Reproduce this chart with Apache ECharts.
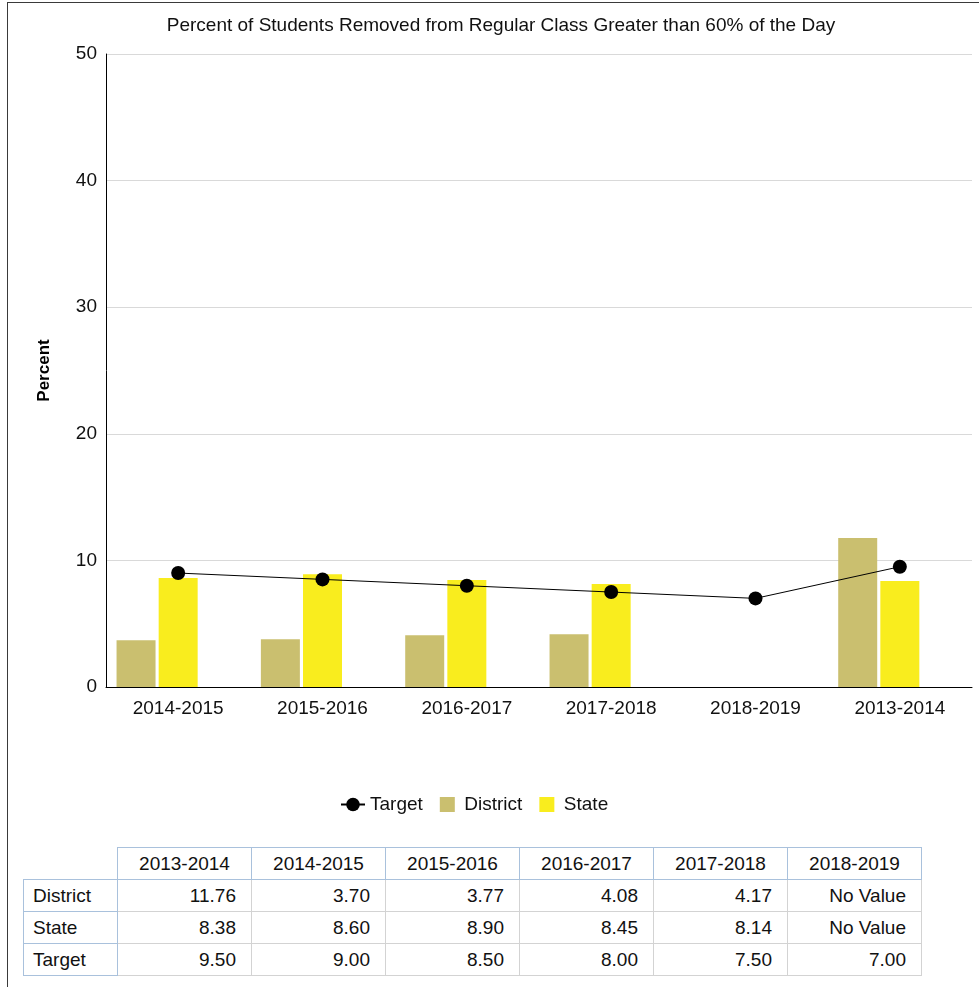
<!DOCTYPE html>
<html>
<head>
<meta charset="utf-8">
<script src="https://cdn.jsdelivr.net/npm/echarts@6/dist/echarts.min.js"></script>
<style>
  html, body { margin: 0; padding: 0; background: #fff; width: 979px; height: 987px; overflow: hidden; }
  #frame { position: absolute; left: 7px; top: 2px; width: 1000px; height: 1000px; border-left: 1px solid #3a3a3a; border-top: 1px solid #3a3a3a; }
  #chart { position: absolute; left: 0; top: 0; width: 979px; height: 840px; }
  #tbl { position: absolute; left: 23px; top: 847px; border-collapse: collapse; font-family: "Liberation Sans", Arial, sans-serif; font-size: 19px; color: #111; }
  #tbl td, #tbl th { height: 32px; padding: 0; font-weight: normal; box-sizing: border-box; }
  #tbl th { border: 1px solid #a9c1dc; text-align: center; width: 134px; }
  #tbl th.corner { border: none; width: 94px; }
  #tbl td.lab { border: 1px solid #a9c1dc; text-align: left; padding-left: 9px; width: 94px; }
  #tbl td.val { border: 1px solid #d3d3d3; text-align: right; padding-right: 15px; width: 134px; }
</style>
</head>
<body>
<div id="frame"></div>
<div id="chart"></div>
<table id="tbl"></table>
<script>
// Chart category order (as drawn on the x axis)
const categories = ['2014-2015', '2015-2016', '2016-2017', '2017-2018', '2018-2019', '2013-2014'];
const districtValues = [3.70, 3.77, 4.08, 4.17, null, 11.76];
const stateValues = [8.60, 8.90, 8.45, 8.14, null, 8.38];
const targetValues = [9.00, 8.50, 8.00, 7.50, 7.00, 9.50];
// Table column order
const tableYears = ['2013-2014', '2014-2015', '2015-2016', '2016-2017', '2017-2018', '2018-2019'];
const yTicks = [0, 10, 20, 30, 40, 50];

const FONT = '"Liberation Sans", Arial, sans-serif';
const SQUARE = 'path://M0,0M17,17M1,1H16V16H1Z';
const chart = echarts.init(document.getElementById('chart'), null, { renderer: 'canvas' });
const toData = a => a.map(v => v === null ? '-' : v);

chart.setOption({
  animation: false,
  textStyle: { fontFamily: FONT },
  title: {
    text: 'Percent of Students Removed from Regular Class Greater than 60% of the Day',
    left: 496, textAlign: 'center', top: 11,
    textStyle: { fontFamily: FONT, fontSize: 19, fontWeight: 'normal', color: '#111' }
  },
  legend: {
    data: [
      { name: 'Target' },
      { name: 'District', icon: SQUARE },
      { name: 'State', icon: SQUARE }
    ],
    left: 335, top: 790,
    itemWidth: 24, itemHeight: 17, itemGap: 16,
    textStyle: { fontFamily: FONT, fontSize: 19, color: '#111' }
  },
  grid: { left: 106, right: 7, top: 54, bottom: 153, containLabel: false },
  xAxis: {
    type: 'category', data: categories,
    axisLine: { lineStyle: { color: '#000', width: 1 } },
    axisTick: { show: false },
    axisLabel: { fontFamily: FONT, fontSize: 19, color: '#111', margin: 12 }
  },
  yAxis: {
    type: 'value', min: yTicks[0], max: yTicks[yTicks.length - 1], interval: 10,
    name: 'Percent', nameLocation: 'middle', nameGap: 53, nameRotate: 90,
    nameTextStyle: { fontFamily: FONT, fontSize: 17, fontWeight: 'bold', color: '#000' },
    axisLine: { show: true, lineStyle: { color: '#000', width: 1 } },
    axisTick: { show: false },
    axisLabel: { fontFamily: FONT, fontSize: 19, color: '#111', margin: 9, padding: [4, 0, 0, 0] },
    splitLine: { lineStyle: { color: '#d9d9d9', width: 1 } }
  },
  series: [
    {
      name: 'District', type: 'bar', data: toData(districtValues),
      barWidth: 39, barGap: '8%',
      itemStyle: { color: '#CABF6F' },
      z: 2
    },
    {
      name: 'State', type: 'bar', data: toData(stateValues),
      barWidth: 39, barGap: '8%',
      itemStyle: { color: '#F9ED1E' },
      z: 2
    },
    {
      name: 'slot', type: 'bar', data: categories.map(() => 0),
      barWidth: 39, barGap: '8%',
      itemStyle: { color: 'rgba(0,0,0,0)' },
      silent: true, z: 1
    },
    {
      name: 'Target', type: 'line', data: toData(targetValues),
      symbol: 'circle', symbolSize: 14,
      lineStyle: { color: '#000', width: 1 },
      itemStyle: { color: '#000' },
      z: 5
    }
  ]
});

// Build data table
const tbl = document.getElementById('tbl');
const fmt = v => (v === null || v === undefined) ? 'No Value' : v.toFixed(2);
const valFor = (arr, year) => arr[categories.indexOf(year)];
let html = '<tr><th class="corner"></th>' + tableYears.map(y => '<th>' + y + '</th>').join('') + '</tr>';
const rows = [['District', districtValues], ['State', stateValues], ['Target', targetValues]];
rows.forEach(([lab, arr]) => {
  html += '<tr><td class="lab">' + lab + '</td>' + tableYears.map(y => '<td class="val">' + fmt(valFor(arr, y)) + '</td>').join('') + '</tr>';
});
tbl.innerHTML = html;
</script>
</body>
</html>
